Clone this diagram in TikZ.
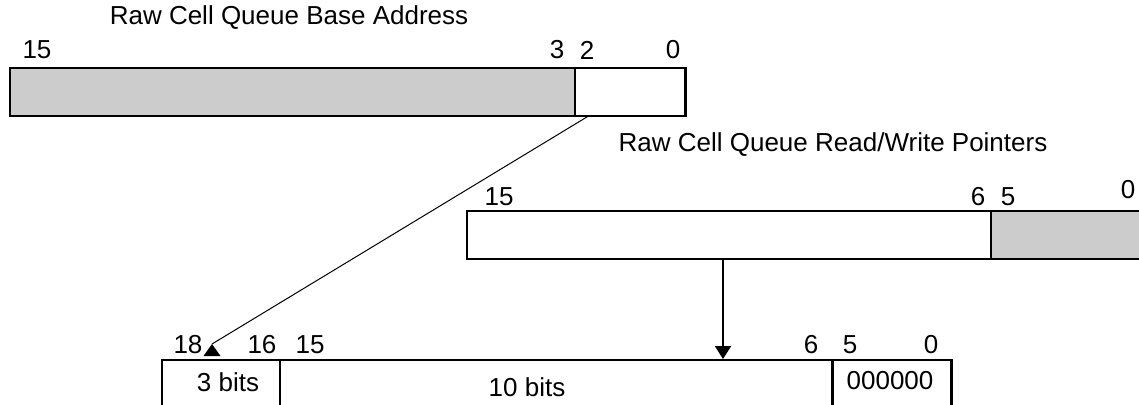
\documentclass[tikz,border=0pt]{standalone}
\usepackage{fontspec}
\setmainfont{Liberation Sans}
\usetikzlibrary{arrows.meta,positioning}
\definecolor{fieldgray}{HTML}{CCCCCC}
\tikzset{
  field/.style={draw, line width=1.2pt, anchor=north west, inner sep=0pt, minimum height=47pt},
  frame/.style={line width=2.3pt},
  bitnum/.style={inner sep=0pt, font=\fontsize{26}{30}\selectfont},
}

\begin{document}
\begin{tikzpicture}[x=1pt, y=-1pt, >={Triangle[width=16pt,length=13pt]}]
    \clip (0,0) rectangle (1139,404);

    % Base address register
    \node[field, fill=fieldgray, minimum width=564pt] (baseHi) at (10,68) {};
    \node[field, minimum width=109pt] (baseLo) at (baseHi.north east) {};
    \draw[frame] (baseHi.north west) rectangle (baseLo.south east);
    \node[bitnum] (baseTitle) at (289,18) {Raw Cell Queue Base Address};
    \node[bitnum] (base15) at (37,50) {15};
    \node[bitnum] (base3) at (557,50) {3};
    \node[bitnum] (base2) at (587,50) {2};
    \node[bitnum] (base0) at (673,50) {0};

    % Read/write pointer register
    \node[field, minimum width=523pt] (ptrHi) at (467,211) {};
    \node[field, fill=fieldgray, minimum width=160pt] (ptrLo) at (ptrHi.north east) {};
    \draw[frame] (ptrHi.north west) rectangle (ptrLo.south east);
    \node[bitnum] (ptrTitle) at (833,145) {Raw Cell Queue Read/Write Pointers};
    \node[bitnum] (ptr15) at (499,197) {15};
    \node[bitnum] (ptr6) at (978,197) {6};
    \node[bitnum] (ptr5) at (1008,197) {5};
    \node[bitnum] (ptr0) at (1128,190) {0};

    % Resulting cell address
    \node[field, minimum width=117pt, minimum height=80pt] (addrHi) at (162,360) {};
    \node[field, minimum width=551pt, minimum height=80pt] (addrMid) at (addrHi.north east) {};
    \node[field, minimum width=118pt, minimum height=80pt] (addrLo) at (addrMid.north east) {};
    \draw[frame] (addrHi.north west) rectangle (addrLo.south east);
    \node[bitnum] (addr18) at (188,345) {18};
    \node[bitnum] (addr16) at (262,345) {16};
    \node[bitnum] (addr15) at (310,345) {15};
    \node[bitnum] (addr6) at (811,345) {6};
    \node[bitnum] (addr5) at (850,345) {5};
    \node[bitnum] (addr0) at (931,345) {0};
    \node[bitnum] (bitsHi) at (228,382) {3 bits};
    \node[bitnum] (bitsMid) at (527,387) {10 bits};
    \node[bitnum] (bitsLo) at (890,381) {000000};

    % Connectors
    \coordinate (tipHi) at (212,344);
    \coordinate (tipMid) at (723,359);
    \draw[line width=1pt] ([xshift=13pt]baseLo.south west) -- (tipHi);
    \fill (tipHi) -- ++(-8.5,12) -- ++(17,0) -- cycle;
    \draw[line width=2pt, ->] (ptrHi.south -| tipMid) -- (tipMid);
\end{tikzpicture}
\end{document}
